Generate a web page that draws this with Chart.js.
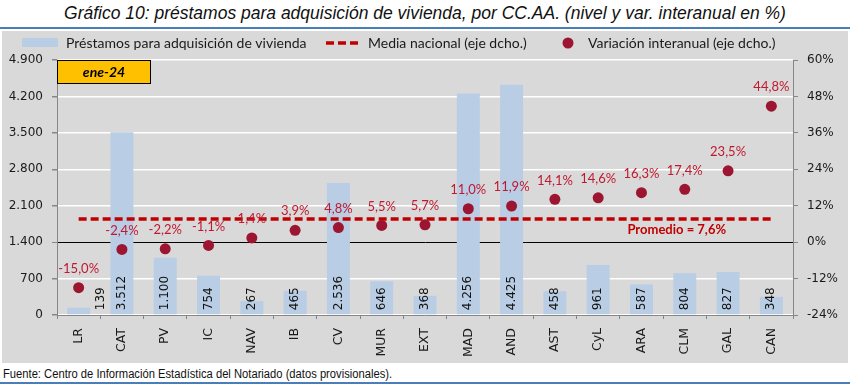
<!DOCTYPE html>
<html><head><meta charset="utf-8">
<script src="https://cdn.jsdelivr.net/npm/chart.js@4/dist/chart.umd.min.js"></script>
<style>
html,body{margin:0;padding:0;background:#fff;width:850px;height:385px;overflow:hidden;}
#title{position:absolute;left:0;top:3px;width:850px;text-align:center;font:italic 18px "Liberation Sans Narrow","Arial Narrow","Liberation Sans",sans-serif;color:#111;white-space:nowrap;transform:scaleX(0.972);transform-origin:425px 0;}
#tline{position:absolute;left:0;top:27px;width:850px;height:2px;background:#4a7ebb;}
#wrap{position:absolute;left:2px;top:31px;width:846px;height:332px;background:#d9d9d9;}
#foot{position:absolute;left:3px;top:367px;font:12.5px "Liberation Sans Narrow","Arial Narrow","Liberation Sans",sans-serif;color:#111;white-space:nowrap;transform:scaleX(0.896);transform-origin:0 0;}
#bline{position:absolute;left:0;top:382px;width:850px;height:2px;background:#4a7ebb;}
canvas{display:block;}
</style></head>
<body>
<div id="title">Gráfico 10: préstamos para adquisición de vivienda, por CC.AA. (nivel y var. interanual en %)</div>
<div id="tline"></div>
<div id="wrap"><canvas id="c" width="846" height="332"></canvas></div>
<div id="foot">Fuente: Centro de Información Estadística del Notariado (datos provisionales).</div>
<div id="bline"></div>
<script>
const categories = ['LR','CAT','PV','IC','NAV','IB','CV','MUR','EXT','MAD','AND','AST','CyL','ARA','CLM','GAL','CAN'];
const loans = [139,3512,1100,754,267,465,2536,646,368,4256,4425,458,961,587,804,827,348];
const yoyChange = [-15.0,-2.4,-2.2,-1.1,1.4,3.9,4.8,5.5,5.7,11.0,11.9,14.1,14.6,16.3,17.4,23.5,44.8];
const nationalAverage = 7.6;
const leftTicks = [0,700,1400,2100,2800,3500,4200,4900];
const rightTicks = [-24,-12,0,12,24,36,48,60];
const periodLabel = 'ene-24';
const legendLabels = ['Préstamos para adquisición de vivienda','Media nacional (eje dcho.)','Variación interanual (eje dcho.)'];

function fmtInt(v){ return String(Math.round(v)).replace(/\B(?=(\d{3})+(?!\d))/g,'.'); }
function fmtPct(v,d){ return v.toFixed(d).replace('.',',') + '%'; }

const BAR = '#b9cde5', DOT = '#9c1631', RED = '#c0182f', DASH = '#c00000', AX = '#868686';
const TICKFONT = {family:'"DejaVu Sans"', size:12};
const LBLFONT = '"Lato","Open Sans",sans-serif';

const deco = {
  id:'deco',
  afterDatasetsDraw(chart){
    const ctx = chart.ctx, a = chart.chartArea;
    const xs = chart.scales.x, y1 = chart.scales.y1;
    ctx.save();
    // bar value labels
    ctx.font = '12px "DejaVu Sans"';
    ctx.fillStyle = '#111';
    ctx.textAlign = 'left'; ctx.textBaseline = 'middle';
    chart.getDatasetMeta(0).data.forEach((bar,i)=>{
      const h = bar.base - bar.y;
      const x = h < 10 ? bar.x + 22 : bar.x;
      ctx.save(); ctx.translate(x, bar.base - 4); ctx.rotate(-Math.PI/2);
      ctx.fillText(fmtInt(loans[i]),0,0); ctx.restore();
    });
    // point labels
    ctx.font = '13px ' + LBLFONT;
    ctx.fillStyle = RED; ctx.textAlign = 'center';
    chart.getDatasetMeta(2).data.forEach((p,i)=>{
      ctx.fillText(fmtPct(yoyChange[i],1), p.x, p.y - 19);
    });
    // average label
    ctx.font = 'bold 13px ' + LBLFONT;
    ctx.fillStyle = DASH;
    ctx.fillText('Promedio = ' + fmtPct(nationalAverage,1), xs.getPixelForValue(14) - 8, y1.getPixelForValue(nationalAverage) + 11);
    // period box
    ctx.fillStyle = '#ffc000'; ctx.strokeStyle = '#000'; ctx.lineWidth = 1;
    ctx.fillRect(a.left, a.top, 93, 23);
    ctx.strokeRect(a.left + 0.5, a.top + 0.5, 93, 23);
    ctx.fillStyle = '#000'; ctx.font = 'italic bold 14px ' + LBLFONT;
    ctx.fillText(periodLabel, a.left + 47, a.top + 12);
    // legend
    const ly = 12;
    ctx.textAlign = 'left';
    ctx.font = '14px ' + LBLFONT; ctx.fillStyle = '#1a1a1a';
    ctx.fillStyle = BAR; ctx.fillRect(20, 7, 36, 9);
    ctx.fillStyle = '#1a1a1a'; ctx.fillText(legendLabels[0], 64, ly);
    ctx.strokeStyle = DASH; ctx.lineWidth = 3.5; ctx.setLineDash([8,4]);
    ctx.beginPath(); ctx.moveTo(324, ly); ctx.lineTo(360, ly); ctx.stroke(); ctx.setLineDash([]);
    ctx.fillText(legendLabels[1], 366, ly);
    ctx.fillStyle = DOT; ctx.beginPath(); ctx.arc(566, ly, 5.5, 0, Math.PI*2); ctx.fill();
    ctx.fillStyle = '#1a1a1a'; ctx.fillText(legendLabels[2], 586, ly);
    ctx.restore();
  }
};

new Chart(document.getElementById('c'), {
  data:{
    labels: categories,
    datasets:[
      {type:'bar', data: loans, backgroundColor: BAR, yAxisID:'y', barPercentage:0.53, categoryPercentage:1, order:3},
      {type:'line', data: categories.map(()=>nationalAverage), yAxisID:'y1', borderColor: DASH, borderWidth:3.5, borderDash:[8,4], pointRadius:0, fill:false, order:2},
      {type:'line', data: yoyChange, yAxisID:'y1', showLine:false, pointRadius:5.5, pointBackgroundColor:DOT, pointBorderColor:DOT, pointBorderWidth:0, order:1}
    ]
  },
  options:{
    responsive:false, animation:false,
    layout:{padding:{top:29,left:0,right:0,bottom:0}},
    plugins:{legend:{display:false}, tooltip:{enabled:false}},
    scales:{
      x:{
        offset:true,
        grid:{display:true, drawOnChartArea:false, offset:true, tickLength:4, color:AX, tickColor:AX},
        border:{color:AX},
        ticks:{minRotation:90, maxRotation:90, font:{family:'"DejaVu Sans"', size:12.5}, color:'#1a1a1a', padding:9},
        afterFit(s){ s.height = 48; }
      },
      y:{
        position:'left', min:0, max:4900,
        afterBuildTicks(s){ s.ticks = leftTicks.map(v=>({value:v})); },
        ticks:{callback:(v)=>fmtInt(v), font:TICKFONT, color:'#1a1a1a', padding:9},
        grid:{color:(c)=> c.tick && c.tick.value===1400 ? '#000' : '#fff', lineWidth:(c)=> c.tick && c.tick.value===1400 ? 1 : 1.5, tickColor:AX, tickLength:5},
        border:{color:AX},
        afterFit(s){ s.width = 55; }
      },
      y1:{
        position:'right', min:-24, max:60,
        afterBuildTicks(s){ s.ticks = rightTicks.map(v=>({value:v})); },
        ticks:{callback:(v)=>v+'%', font:TICKFONT, color:'#1a1a1a', padding:9},
        grid:{drawOnChartArea:false, tickColor:AX, tickLength:5},
        border:{color:AX},
        afterFit(s){ s.width = 55; }
      }
    }
  },
  plugins:[deco]
});
</script>
</body></html>
